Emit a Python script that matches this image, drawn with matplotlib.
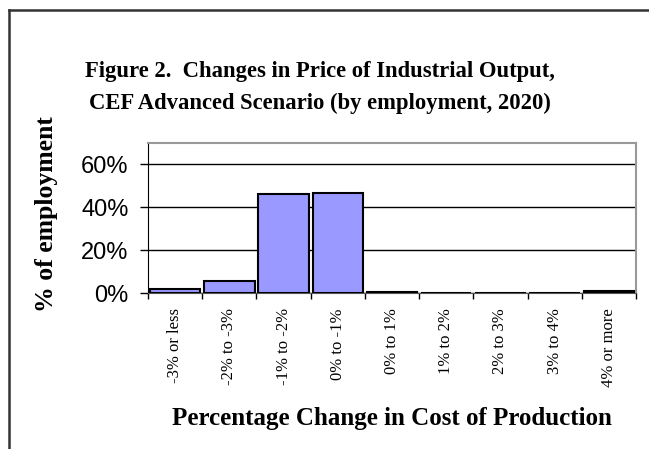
import numpy as np
import matplotlib.pyplot as plt
from matplotlib.lines import Line2D

# datos del grafico
categorias = ['-3% or less', '-2% to -3%', '-1% to -2%', '0% to -1%', '0% to 1%',
              '1% to 2%', '2% to 3%', '3% to 4%', '4% or more']
valores = [2.0, 5.5, 46.0, 46.5, 0.3, 0.0, 0.0, 0.0, 0.8]
yticks = [0, 20, 40, 60]
ytick_labels = ['0%', '20%', '40%', '60%']

fig = plt.figure(figsize=(6.49, 4.49), dpi=100)
ax = fig.add_axes([148 / 649, 1 - 293 / 449, (636 - 148) / 649, (293 - 143) / 449])

x = np.arange(len(categorias))
ax.bar(x, valores, width=0.93, color='#9999FF', edgecolor='black', linewidth=1.5, zorder=3)

ax.set_xlim(-0.5, len(categorias) - 0.5)
ax.set_ylim(0, 70)
ax.set_yticks(yticks)
ax.set_yticklabels(ytick_labels, fontfamily='Liberation Sans', fontsize=17)
ax.yaxis.grid(True, color='black', linewidth=1)
ax.set_axisbelow(True)

# ticks en x: etiquetas en el centro, marcas en los bordes
ax.set_xticks(x)
ax.set_xticklabels(categorias, rotation=90, fontfamily='Liberation Serif', fontsize=12)
ax.tick_params(axis='x', length=0, pad=11)
ax.set_xticks(np.arange(-0.5, len(categorias)), minor=True)
ax.tick_params(axis='x', which='minor', length=4, width=1, color='black', direction='out')
ax.tick_params(axis='y', length=6, width=1, color='black', direction='out', pad=8)

for lado in ['top', 'right']:
    ax.spines[lado].set_color('#999999')
    ax.spines[lado].set_linewidth(1.5)
ax.spines['left'].set_color('black')
ax.spines['bottom'].set_color('#555555')

fig.text(47 / 649, 0.523, '% of employment', rotation=90, ha='center', va='center',
         fontfamily='Liberation Serif', fontweight='bold', fontsize=18.5)

fig.text(0.493, 0.84, 'Figure 2.  Changes in Price of Industrial Output,',
         ha='center', va='center', fontfamily='Liberation Serif', fontweight='bold', fontsize=16.3)
fig.text(0.493, 0.77, 'CEF Advanced Scenario (by employment, 2020)',
         ha='center', va='center', fontfamily='Liberation Serif', fontweight='bold', fontsize=16.3)
fig.text(0.604, 0.067, 'Percentage Change in Cost of Production',
         ha='center', va='center', fontfamily='Liberation Serif', fontweight='bold', fontsize=18)

# marco exterior (cortado a la derecha y abajo)
fig.add_artist(Line2D([9 / 649, 9 / 649], [0, 1 - 10 / 449], transform=fig.transFigure,
                      color='#333333', linewidth=1.8))
fig.add_artist(Line2D([9 / 649, 1], [1 - 10 / 449, 1 - 10 / 449], transform=fig.transFigure,
                      color='#333333', linewidth=1.8))

fig.savefig('out.png', dpi=100)
